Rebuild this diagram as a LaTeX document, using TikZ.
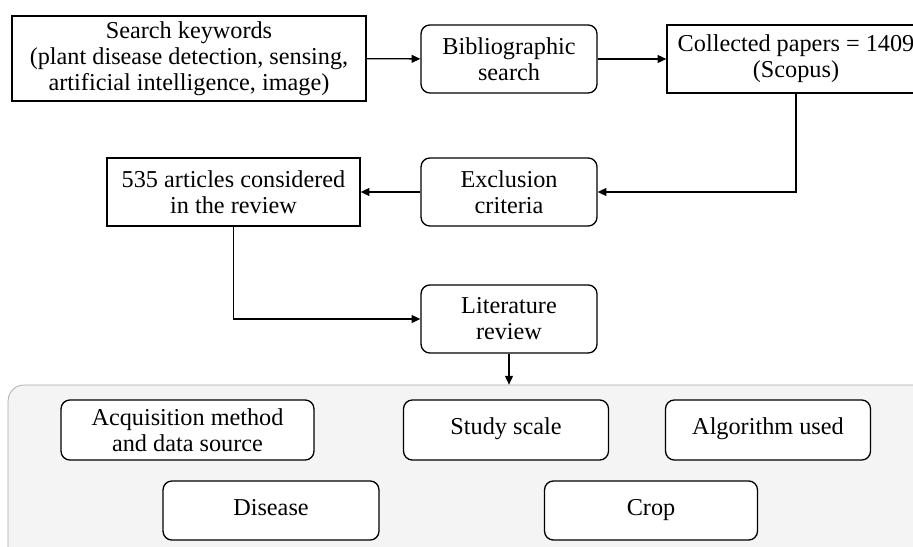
\documentclass[tikz,border=0pt]{standalone}
\usepackage{fontspec}
\setmainfont{Liberation Serif}
\usepackage{xcolor}
\usepackage{tikz}
\usetikzlibrary{arrows.meta,positioning,calc}

\begin{document}
\begin{tikzpicture}[
  x=0.02cm, y=-0.02cm,
  box/.style={draw, line width=0.75pt, align=center, inner sep=2pt, font=\fontsize{13.8}{14.8}\selectfont},
  rbox/.style={box, rounded corners=5pt, minimum width=3.52cm, minimum height=1.36cm},
  topic/.style={box, rounded corners=5pt, fill=white, minimum height=1.2cm},
  single/.style={text height=1.6ex, text depth=0.4ex},
  arr/.style={-{Triangle[length=5pt,width=4.5pt]}, line width=0.75pt},
]
  \useasboundingbox (0,0) rectangle (913,547);

  % Row 1
  \node[box, minimum width=7.08cm, minimum height=1.7cm] (keys) at (189,58.5)
    {Search keywords\\(plant disease detection, sensing,\\artificial intelligence, image)};
  \node[rbox] (biblio) at (509,59) {Bibliographic\\search};
  \node[box, minimum width=5.16cm, minimum height=1.36cm] (collected) at (796,59)
    {Collected papers = 1409\\(Scopus)};

  % Row 2
  \node[rbox] (excl) at (509,192) {Exclusion\\criteria};
  \node[box, minimum width=5.06cm, minimum height=1.36cm] (articles) at (233.5,192)
    {535 articles considered\\in the review};

  % Row 3
  \node[rbox] (litrev) at (509,319) {Literature\\review};

  % Topic panel
  \node[draw=gray!70, fill=gray!9, rounded corners=9pt, minimum width=18.44cm, minimum height=3.6cm] (panel) at (469,475) {};
  \node[topic, minimum width=5.06cm] (acq) at (187.5,430) {Acquisition method\\and data source};
  \node[topic, single, minimum width=4.1cm] (scale) at (506,430) {Study scale};
  \node[topic, single, minimum width=4.1cm] (algo) at (768,430) {Algorithm used};
  \node[topic, single, minimum width=4.32cm, minimum height=1.18cm] (disease) at (271,510.5) {Disease};
  \node[topic, single, minimum width=4.26cm, minimum height=1.18cm] (crop) at (651,510.5) {Crop};

  % Arrows
  \draw[arr] (keys) -- (biblio);
  \draw[arr] (biblio) -- (collected);
  \draw[arr] (collected.south) |- (excl.east);
  \draw[arr] (excl) -- (articles);
  \draw[arr] (articles.south) |- (litrev.west);
  \draw[arr] (litrev.south) -- (litrev.south |- panel.north);
\end{tikzpicture}
\end{document}
